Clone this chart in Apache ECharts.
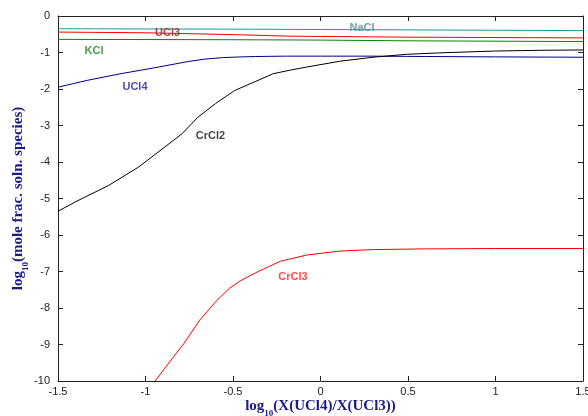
<!DOCTYPE html>
<html><head><meta charset="utf-8">
<script src="https://cdn.jsdelivr.net/npm/echarts@6/dist/echarts.min.js"></script>
<style>html,body{margin:0;padding:0;background:#fff}#c{width:588px;height:416px}</style>
</head><body><div id="c"></div>
<script>
// Data
const xNaCl = [-1.5, -0.5, 0, 0.5, 1.0, 1.5];
const yNaCl = [-0.35, -0.36, -0.37, -0.38, -0.39, -0.40];
const xUCl3 = [-1.5, -1.0, -0.5, -0.2, 0, 0.5, 1.0, 1.5];
const yUCl3 = [-0.44, -0.46, -0.51, -0.55, -0.56, -0.58, -0.59, -0.60];
const xKCl = [-1.5, -0.5, 0, 0.5, 1.0, 1.5];
const yKCl = [-0.64, -0.65, -0.66, -0.68, -0.69, -0.70];
const xUCl4 = [-1.5, -1.33, -1.14, -0.95, -0.76, -0.66, -0.56, -0.45, -0.37, -0.2, 0, 0.3, 0.6, 1.0, 1.5];
const yUCl4 = [-1.95, -1.76, -1.58, -1.42, -1.25, -1.18, -1.14, -1.12, -1.11, -1.10, -1.10, -1.10, -1.11, -1.12, -1.13];
const xCrCl2 = [-1.5, -1.40, -1.21, -1.04, -0.89, -0.79, -0.70, -0.60, -0.49, -0.37, -0.27, -0.17, -0.08, 0.11, 0.30, 0.49, 0.68, 1.0, 1.25, 1.5];
const yCrCl2 = [-5.35, -5.09, -4.64, -4.14, -3.59, -3.22, -2.77, -2.40, -2.04, -1.79, -1.58, -1.48, -1.40, -1.24, -1.13, -1.05, -1.01, -0.96, -0.94, -0.93];
const xCrCl3 = [-0.945, -0.89, -0.78, -0.69, -0.59, -0.52, -0.46, -0.36, -0.23, -0.08, 0.11, 0.3, 0.6, 1.0, 1.5];
const yCrCl3 = [-10, -9.65, -8.97, -8.33, -7.78, -7.46, -7.26, -7.01, -6.72, -6.55, -6.44, -6.40, -6.38, -6.37, -6.37];

const labelNames = ['NaCl', 'UCl3', 'KCl', 'UCl4', 'CrCl2', 'CrCl3'];
const labelX = [0.237, -0.874, -1.294, -1.06, -0.629, -0.157];
const labelY = [-0.33, -0.465, -0.97, -1.956, -3.30, -7.15];
const labelColors = ['#2a9898', '#a01818', '#1a8a1a', '#1a1a9a', '#111111', '#ff1a1a'];

const xTickMin = -1.5, xTickMax = 1.5, xTickStep = 0.5;
const yTickMin = -10, yTickMax = 0, yTickStep = 1;

const zip = (xs, ys) => xs.map((x, i) => [x, ys[i]]);

const lineSeries = (name, xs, ys, color) => ({
  name, type: 'line', data: zip(xs, ys), showSymbol: false, symbol: 'none',
  smooth: false, clip: true,
  lineStyle: { color, width: 1 }, z: 2
});

const tickStyle = { inside: true, length: 5, lineStyle: { color: '#222', width: 1 } };
const lineStyle = { onZero: false, lineStyle: { color: '#222', width: 1 } };
const richName = {
  a: { fontFamily: 'Liberation Serif, Times New Roman', fontWeight: 'bold', fontSize: 15, color: '#1a1a8c', lineHeight: 18, verticalAlign: 'bottom' },
  s: { fontFamily: 'Liberation Serif, Times New Roman', fontWeight: 'bold', fontSize: 9, color: '#1a1a8c', lineHeight: 18, verticalAlign: 'bottom', padding: [0, 0, -4, 0] }
};

const chart = echarts.init(document.getElementById('c'), null, { renderer: 'canvas' });
chart.setOption({
  animation: false,
  backgroundColor: '#fff',
  grid: { left: 58, right: 5, top: 16, bottom: 35, containLabel: false, outerBoundsMode: 'none' },
  xAxis: [{
    type: 'value', min: xTickMin, max: xTickMax, interval: xTickStep, position: 'bottom',
    axisLine: { show: true, ...lineStyle }, axisTick: tickStyle, splitLine: { show: false },
    axisLabel: { color: '#222', fontSize: 11, fontFamily: 'Liberation Sans, Arial', margin: 5 },
    name: '{a|log}{s|10}{a|(X(UCl4)/X(UCl3))}', nameLocation: 'middle', nameGap: 15, nameMoveOverlap: false,
    nameTextStyle: { rich: richName }
  }, {
    type: 'value', min: xTickMin, max: xTickMax, interval: xTickStep, position: 'top',
    axisLine: { show: true, ...lineStyle }, axisTick: tickStyle, splitLine: { show: false },
    axisLabel: { show: false }
  }],
  yAxis: [{
    type: 'value', min: yTickMin, max: yTickMax, interval: yTickStep, position: 'left',
    axisLine: { show: true, ...lineStyle }, axisTick: tickStyle, splitLine: { show: false },
    axisLabel: { color: '#222', fontSize: 11, fontFamily: 'Liberation Sans, Arial', margin: 8 },
    name: '{a|log}{s|10}{a|(mole frac. soln. species)}', nameLocation: 'middle', nameGap: 32, nameRotate: 90, nameMoveOverlap: false,
    nameTextStyle: { rich: richName }
  }, {
    type: 'value', min: yTickMin, max: yTickMax, interval: yTickStep, position: 'right',
    axisLine: { show: true, ...lineStyle }, axisTick: tickStyle, splitLine: { show: false },
    axisLabel: { show: false }
  }],
  series: [
    lineSeries('NaCl', xNaCl, yNaCl, '#1a9a9a'),
    lineSeries('UCl3', xUCl3, yUCl3, '#ff0000'),
    lineSeries('KCl', xKCl, yKCl, '#008800'),
    lineSeries('UCl4', xUCl4, yUCl4, '#00008b'),
    lineSeries('CrCl2', xCrCl2, yCrCl2, '#000000'),
    lineSeries('CrCl3', xCrCl3, yCrCl3, '#ff0000'),
    {
      type: 'scatter', symbolSize: 0, z: 5, silent: true,
      data: labelNames.map((n, i) => ({
        value: [labelX[i], labelY[i]],
        label: { show: true, position: 'inside', formatter: n, color: labelColors[i],
                 fontFamily: 'Liberation Sans, Arial', fontWeight: 'bold', fontSize: 11 }
      }))
    }
  ]
});
</script></body></html>
